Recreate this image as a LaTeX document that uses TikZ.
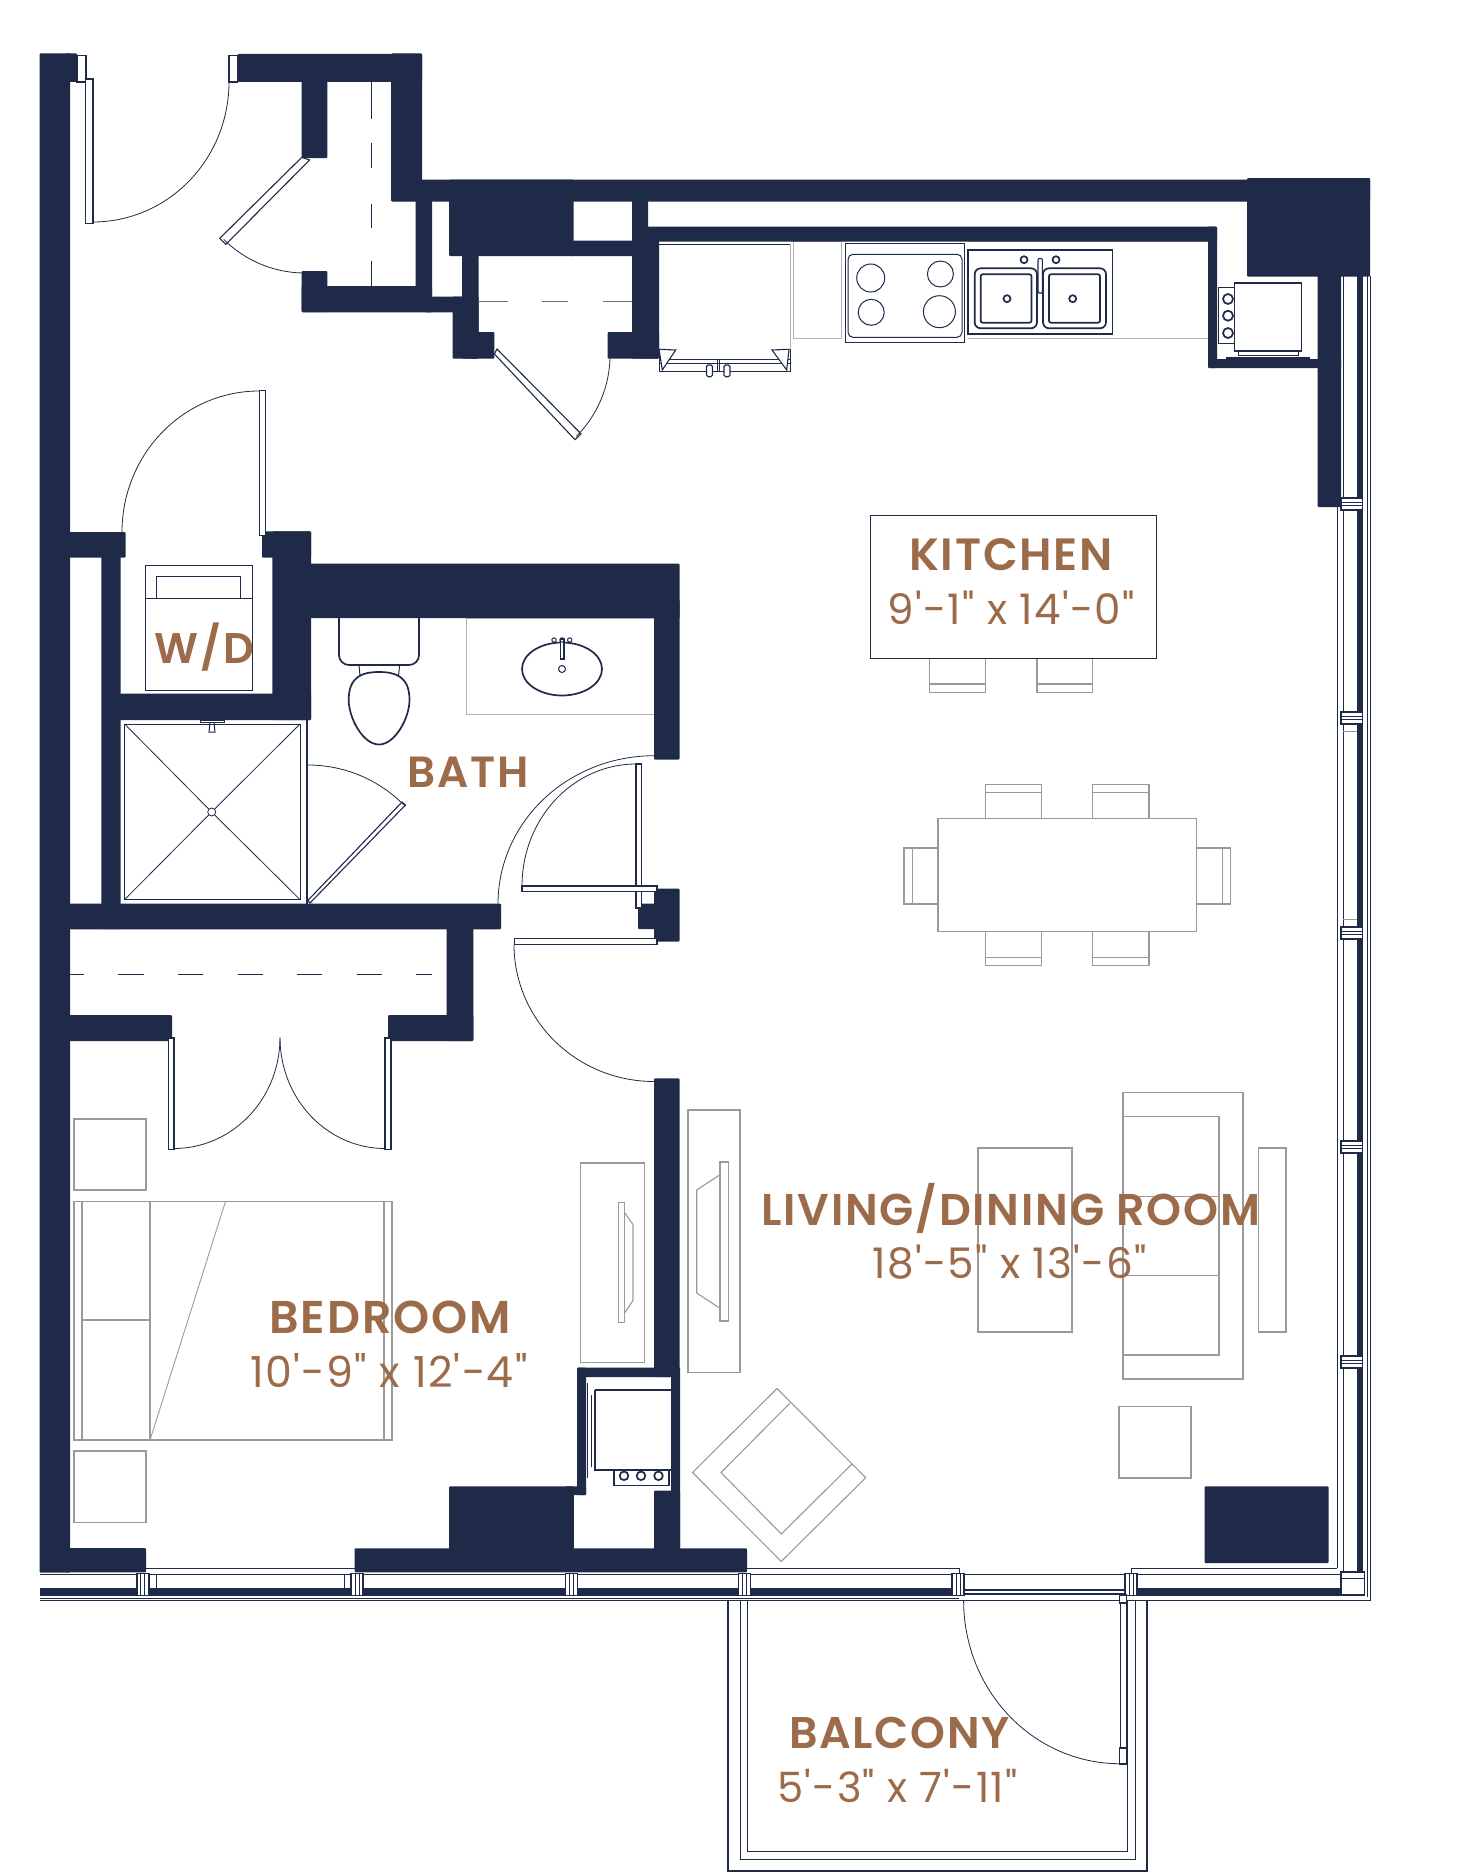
\documentclass[tikz,border=0pt]{standalone}
\usepackage{fontspec}
\usepackage{graphicx}
\newfontfamily\ttlfont[LetterSpace=4]{Poppins SemiBold}
\newfontfamily\dimfont[LetterSpace=3]{Poppins}
\definecolor{navy}{HTML}{1E2A47}
\definecolor{brownlab}{HTML}{9C6B4A}
\definecolor{furn}{HTML}{9A9A9A}
\definecolor{counter}{HTML}{B4B4B4}
\tikzset{
 wall/.style={fill=navy,draw=none,rounded corners=1pt},
 ln/.style={draw=navy,line width=1pt},
 thk/.style={draw=navy,line width=1.7pt},
 sw/.style={draw=navy,line width=0.8pt},
 fur/.style={draw=furn,line width=1.1pt},
 cnt/.style={draw=counter,line width=1pt},
 leaf/.style={draw=navy,line width=1.1pt,fill=white},
 dsh/.style={draw=navy,line width=0.8pt},
 ttl/.style={text=brownlab,inner sep=0pt,anchor=center},
}
\newcommand\wl[4]{\fill[wall] (#1,#2) rectangle (#3,#4);}
\newcommand\swing[6]{\draw[sw] plot[domain=#5:#6,samples=48] ({#1+#3*cos(\x)},{#2+#4*sin(\x)});}
\newcommand\mullh[1]{\draw[thk,fill=white] (#1-6,1573.5) rectangle (#1+6,1595.5);\draw[ln] (#1-2,1573.5)--(#1-2,1595.5) (#1+2,1573.5)--(#1+2,1595.5);}
\newcommand\mullv[1]{\draw[thk,fill=white] (1341,#1-6) rectangle (1362.5,#1+6);\draw[ln] (1341,#1-1.5)--(1362.5,#1-1.5) (1341,#1+1.5)--(1362.5,#1+1.5);}
\begin{document}
\begin{tikzpicture}[x=1pt,y=-1pt]
\useasboundingbox (0,0) rectangle (1460,1873);
\fill[white] (0,0) rectangle (1460,1873);

% --- counters (light, under walls)
\draw[cnt] (793,241.7) rectangle (841.4,338.7);
\draw[cnt] (968,241.7) -- (1208,241.7) (968,338.7) -- (1208,338.7);
\draw[cnt] (466.6,618) rectangle (654,714);
\draw[cnt] (659,244) -- (790,244) -- (790,359);

% --- right window system
\draw[ln] (1337,507) -- (1337,1568.3);
\draw[ln] (1343,276) -- (1343,1574);
\fill[navy] (1357,276) rectangle (1363,1590);
\draw[ln] (1367,276) -- (1367,1597);
\draw[ln] (1370.5,276) -- (1370.5,1600.5);
\draw[furn,line width=.8pt] (1343,731.7) -- (1357,731.7) (1343,919.3) -- (1357,919.3);
\mullv{504}\mullv{718}\mullv{933}\mullv{1147}\mullv{1361.7}

% --- bottom window system
\draw[ln] (146,1568.3) -- (354.5,1568.3);
\draw[ln] (747,1568.3) -- (959,1568.3) -- (959,1574);
\draw[ln] (1131,1574) -- (1131,1568.3) -- (1337,1568.3);
\draw[ln] (39.5,1574) -- (1343,1574);
\fill[navy] (39.5,1588) rectangle (958,1595.5);
\fill[navy] (1131,1588) rectangle (1352,1595.5);
\draw[ln] (39.5,1598.5) -- (959,1598.5);
\draw[ln] (39.5,1600.5) -- (1370.5,1600.5);
\draw[ln] (959,1574) -- (959,1596) (1131,1574) -- (1131,1596);
\draw[ln] (156,1574) -- (156,1588) (344,1574) -- (344,1588);
\draw[leaf] (959,1590) rectangle (1132,1594);
\mullh{142.7}\mullh{357.3}\mullh{571.4}\mullh{744.5}\mullh{958}\mullh{1131}
\draw[thk,fill=white] (1341,1572) rectangle (1364.4,1595);
\draw[ln] (1341,1578) -- (1364.4,1578);

% --- balcony
\draw[thk] (728,1600.7) -- (728,1871) -- (1147.3,1871) -- (1147.3,1600.7);
\draw[ln] (740,1600.7) -- (740,1859) -- (1135,1859) -- (1135,1600.7);
\draw[ln] (747.8,1600.7) -- (747.8,1851) -- (1127,1851) -- (1127,1600.7);
\draw[leaf] (1120.5,1595) rectangle (1126.5,1764);
\draw[leaf] (1119.6,1748) rectangle (1126.5,1764);
\draw[leaf] (1119.6,1595) rectangle (1126.5,1603);
\swing{1119.6}{1600.7}{156}{163}{90}{180}

% --- walls
\wl{39.5}{53.5}{70}{1572.5}
\wl{65}{53.5}{77}{82}
\wl{237.5}{54}{422}{82}
\wl{301.7}{75}{327.3}{158}
\wl{391}{53.5}{422}{201}
\wl{391}{179.5}{1370}{201.5}
\wl{449}{179.5}{573.6}{256}
\wl{570}{240.5}{648}{256}
\wl{632}{195}{648}{256}
\wl{632}{241}{659}{358.6}
\wl{607.5}{332}{659}{358.6}
\wl{640}{226.7}{1217}{241.7}
\wl{1208}{226.7}{1217}{368}
\wl{1208}{359}{1341}{368}
\wl{1317.5}{270}{1341}{507}
\wl{1247}{178}{1370}{276.7}
\wl{415.7}{195}{432}{296.6}
\wl{462}{250}{478.6}{358.6}
\wl{301.7}{286}{432}{312.4}
\wl{425}{296.6}{470}{312.4}
\wl{452.5}{296.6}{478.6}{358.6}
\wl{470}{332}{494.4}{358.6}
\wl{301.7}{271}{327.3}{312}
\wl{65}{532}{125.7}{557.5}
\wl{101.4}{549}{120.6}{929}
\wl{262}{531.4}{311}{557.5}
\wl{272.4}{531.4}{311}{720}
\wl{115}{693.5}{311}{720}
\wl{300}{563.7}{679.6}{618}
\wl{654}{600}{679.6}{759.6}
\wl{65}{903.7}{501}{929.4}
\wl{446.5}{920}{473.3}{1041}
\wl{388}{1015}{473.3}{1041}
\wl{65}{1015}{172}{1041}
\wl{654}{888.6}{679.6}{941.6}
\wl{638}{903.7}{660}{929}
\wl{654}{1078.4}{679.6}{1377}
\wl{577}{1367.5}{671}{1377}
\wl{671}{1367}{680}{1548}
\wl{577}{1367.5}{586}{1495}
\wl{654}{1490.5}{680}{1552}
\wl{449}{1486.3}{573.8}{1560}
\wl{565}{1486.3}{586}{1495}
\wl{65}{1548}{146}{1572.4}
\wl{354.5}{1548.3}{747}{1572.4}
\wl{1204.5}{1486.3}{1328.6}{1563}

% --- entry door
\draw[leaf] (77,55.5) rectangle (86,82);
\draw[leaf] (229,55.5) rectangle (237.5,82);
\draw[leaf] (85.5,79) rectangle (93,223.4);
\swing{93}{82}{136}{140}{0}{90}

% --- closet 1
\foreach \a/\b in {82/119,143/168,204/228,261/286}{\draw[dsh] (371.5,\a) -- (371.5,\b);}
\draw[leaf] (301.7,157.4) -- (309.6,160) -- (225.8,244.4) -- (219.7,238.4) -- cycle;
\swing{305}{158}{115}{115}{90}{135}

% --- closet 2
\foreach \a/\b in {478/508,542/568,603/632}{\draw[furn!60!navy,line width=.8pt] (\a,301.3) -- (\b,301.3);}
\draw[leaf] (494.4,354) -- (497,349) -- (581,433.8) -- (575,439.7) -- cycle;
\swing{495}{355}{115}{115}{0}{45}

% --- fridge
\draw[ln] (659,244.5) -- (790,244.5);
\draw[ln] (659,359) -- (790,359);
\draw[ln] (659,349) -- (659,371) -- (790,371) -- (790,349);
\draw[ln] (660,363) -- (790,363);
\draw[ln] (717,359) -- (717,371) (719.5,359) -- (719.5,371);
\draw[leaf] (659,349.3) -- (675.7,350) -- (662.3,370) -- cycle;
\draw[leaf] (789,349.3) -- (772,350) -- (786.7,370) -- cycle;
\draw[leaf,rounded corners=1.5pt] (706.5,365) rectangle (712.5,376.7);
\draw[leaf,rounded corners=1.5pt] (724,365) rectangle (730,376.7);

% --- range
\draw[ln] (845.4,243.3) rectangle (964.8,342.3);
\draw[ln,rounded corners=5pt] (848,254.3) rectangle (962,337.3);
\draw[ln] (870.7,278) ellipse [x radius=14,y radius=14];
\draw[ln] (940.4,274) ellipse [x radius=13,y radius=13];
\draw[ln] (871.2,312.3) ellipse [x radius=13,y radius=13];
\draw[ln] (939.4,311.7) ellipse [x radius=16,y radius=16];

% --- sink
\draw[thk] (968,250.3) rectangle (1112.5,334.3);
\draw[thk,rounded corners=6pt] (974.7,268.3) rectangle (1037,328.3);
\draw[thk,rounded corners=2pt] (980.7,274.3) rectangle (1031.4,322.7);
\draw[thk,rounded corners=6pt] (1043,268.3) rectangle (1106,328.3);
\draw[thk,rounded corners=2pt] (1049,274.3) rectangle (1100,322.7);
\draw[thk] (1007,298.7) circle [radius=3.5] (1072.7,298.7) circle [radius=3.5];
\draw[thk] (1024,259.7) circle [radius=3.5] (1056,259.7) circle [radius=3.5];
\draw[leaf,rounded corners=2pt] (1038,258.3) rectangle (1042.4,293.3);

% --- kitchen water heater
\draw[thk] (1234.4,282.7) rectangle (1301.6,351);
\draw[ln] (1218.5,287.3) rectangle (1234.4,343.3);
\draw[thk] (1228,299) circle [radius=5] (1228,315.7) circle [radius=5] (1228,333) circle [radius=5];
\draw[ln] (1238,351) rectangle (1298,355);
\draw[thk] (1226,358) -- (1309.5,358);

% --- W/D door, washer
\draw[leaf] (259.3,390.7) rectangle (265.4,535.8);
\swing{259}{532}{137}{141}{180}{270}
\draw[ln] (145,565) rectangle (252.3,690);
\draw[ln] (145,598.4) -- (252.3,598.4);
\draw[ln] (156.8,598.4) -- (156.8,576.3) -- (240.3,576.3) -- (240.3,598.4);

% --- shower
\draw[ln] (124.6,724) rectangle (300,899.6);
\draw[sw] (124.6,724) -- (208.7,809) (214.7,815) -- (300,899.6);
\draw[sw] (300,724) -- (214.7,809) (208.7,815) -- (124.6,899.6);
\draw[sw] (211.7,812) circle [radius=4];
\draw[ln] (200,720) rectangle (224.6,722.5);
\draw[ln] (210,722.5) -- (209,732) -- (215,732) -- (214,722.5);
\draw[thk] (307,720) -- (307,903.7);
\draw[leaf] (307.7,900.6) -- (402,802) -- (405.5,805) -- (310,903) -- cycle;
\swing{308}{900}{135}{135}{-90}{-44}

% --- toilet
\draw[thk,rounded corners=10pt] (339,618) -- (339,665) -- (419,665) -- (419,618);
\draw[ln] (359,665) -- (360,676) (399.6,665) -- (398.5,676);
\draw[thk] (379,672) .. controls (395,672) and (409.5,676) .. (409.5,700)
  .. controls (409.5,718) and (395,744.5) .. (379,744.5)
  .. controls (363,744.5) and (348.7,718) .. (348.7,700)
  .. controls (348.7,676) and (363,672) .. (379,672) -- cycle;

% --- vanity sink
\draw[thk] (562,669) ellipse [x radius=40,y radius=26.5];
\draw[ln] (562,669) circle [radius=3.5];
\draw[leaf] (560.2,639) rectangle (564,659);
\draw[ln] (554,640) circle [radius=2.2] (562,640) circle [radius=2.2] (569.7,640) circle [radius=2.2];

% --- bath doors
\swing{654}{903.7}{156}{148}{180}{270}
\draw[leaf] (636,764) rectangle (641.6,908);
\swing{636}{886}{114}{122}{180}{270}
\draw[leaf] (522,886) rectangle (657,891.5);
\draw[leaf] (514.4,938.4) rectangle (657,944.5);
\swing{654}{944.5}{140}{137}{90}{180}

% --- dashed bedroom closet
\foreach \a/\b in {70/83.6,118/144,178/203,237.6/263,297/322,357/382,416/432}{\draw[dsh] (\a,973.9) -- (\b,973.9);}
\draw[leaf] (168.4,1038) rectangle (174,1149.4);
\draw[leaf] (385,1038) rectangle (391,1149.4);
\swing{174}{1037.5}{106}{111}{0}{90}
\swing{385}{1037.5}{105}{111}{90}{180}

% --- bedroom furniture
\draw[fur] (74,1119) rectangle (146,1190);
\draw[fur] (74,1451) rectangle (146,1522.5);
\draw[fur] (74,1201.5) rectangle (392,1440);
\draw[fur] (82,1201.5) -- (82,1440) (150,1201.5) -- (150,1440) (384,1201.5) -- (384,1440);
\draw[fur] (82,1320) -- (150,1320);
\draw[fur,line width=.9pt] (150,1440) -- (225.5,1201.5);
\draw[fur] (580.7,1163) rectangle (644.5,1362.4);
\draw[fur] (618.5,1202.6) rectangle (624.5,1322.4);
\draw[fur] (624.5,1212.6) -- (633,1224.6) -- (633,1300.4) -- (624.5,1313);

% --- bedroom closet water heater
\draw[thk] (595,1390) -- (671,1390);
\draw[thk] (595,1390) -- (595,1470) -- (671,1470);
\draw[ln] (587.5,1383) -- (587.5,1478);
\draw[ln] (591,1395) -- (591,1467);
\draw[thk] (614,1470) rectangle (669,1485.6);
\draw[thk] (624,1475.8) circle [radius=4.3] (641,1475.8) circle [radius=4.3] (658.5,1475.8) circle [radius=4.3];

% --- living furniture
\draw[fur] (688,1110) rectangle (740,1372.7);
\draw[fur] (720,1162) rectangle (728.3,1321);
\draw[fur] (720,1174.7) -- (696.7,1190) -- (696.7,1293) -- (720,1308.3);
\draw[fur] (978,1148) rectangle (1072,1332);
\draw[fur] (1123,1092.7) rectangle (1243,1379);
\draw[fur] (1123,1116.5) rectangle (1219,1355);
\draw[fur] (1123,1196.4) -- (1219,1196.4) (1123,1275.3) -- (1219,1275.3);
\draw[fur] (1258.6,1148) rectangle (1286,1332);
\draw[fur] (1119,1406.4) rectangle (1191,1478);
\draw[fur] (777,1388.5) -- (865.7,1477.7) -- (781.3,1561.4) -- (692.5,1472.5) -- cycle;
\draw[fur] (790,1403) -- (721,1472.5) -- (781.3,1534) -- (852,1464);

% --- island + dining
\draw[fur] (929.7,658.3) rectangle (985.3,692.3) (929.7,684) -- (985.3,684);
\draw[fur] (1037,658.3) rectangle (1092.7,692.3) (1037,684) -- (1092.7,684);
\draw[ln] (870,515) rectangle (1156.7,658.3);
\draw[fur] (938,818.7) rectangle (1196.3,931.7);
\draw[fur] (985.7,784.7) rectangle (1041.7,818.7) (985.7,792.7) -- (1041.7,792.7);
\draw[fur] (1092.7,784.7) rectangle (1149,818.7) (1092.7,792.7) -- (1149,792.7);
\draw[fur] (985.7,931.7) rectangle (1041.7,965.7) (985.7,957.7) -- (1041.7,957.7);
\draw[fur] (1092.7,931.7) rectangle (1149,965.7) (1092.7,957.7) -- (1149,957.7);
\draw[fur] (904,848) rectangle (938,904) (912.3,848) -- (912.3,904);
\draw[fur] (1196.3,848) rectangle (1230.3,904) (1222.3,848) -- (1222.3,904);

% --- labels
\node[ttl] (kt) at (1011,555) {\resizebox{204pt}{!}{\ttlfont\fontsize{40}{40}\selectfont KITCHEN}};
\node[ttl] (kd) at (1011,607.5) {\resizebox{247pt}{!}{\dimfont\fontsize{40}{40}\selectfont 9'-1" x 14'-0"}};
\node[ttl] (wd) at (204.5,647) {\resizebox{99pt}{!}{\ttlfont\fontsize{40}{40}\selectfont W/D}};
\node[ttl] (ba) at (468,772) {\resizebox{121pt}{!}{\ttlfont\fontsize{40}{40}\selectfont BATH}};
\node[ttl] (bt) at (390,1317) {\resizebox{241pt}{!}{\ttlfont\fontsize{40}{40}\selectfont BEDROOM}};
\node[ttl] (bd) at (389,1370) {\resizebox{277pt}{!}{\dimfont\fontsize{40}{40}\selectfont 10'-9" x 12'-4"}};
\node[ttl] (lt) at (1010.8,1208.6) {\resizebox{499pt}{!}{\ttlfont\fontsize{40}{40}\selectfont LIVING/DINING ROOM}};
\node[ttl] (ld) at (1009.6,1262) {\resizebox{274pt}{!}{\dimfont\fontsize{40}{40}\selectfont 18'-5" x 13'-6"}};
\node[ttl] (bc) at (899.5,1733) {\resizebox{221pt}{!}{\ttlfont\fontsize{40}{40}\selectfont BALCONY}};
\node[ttl] (bcd) at (897.5,1786) {\resizebox{240pt}{!}{\dimfont\fontsize{40}{40}\selectfont 5'-3" x 7'-11"}};
\end{tikzpicture}
\end{document}
